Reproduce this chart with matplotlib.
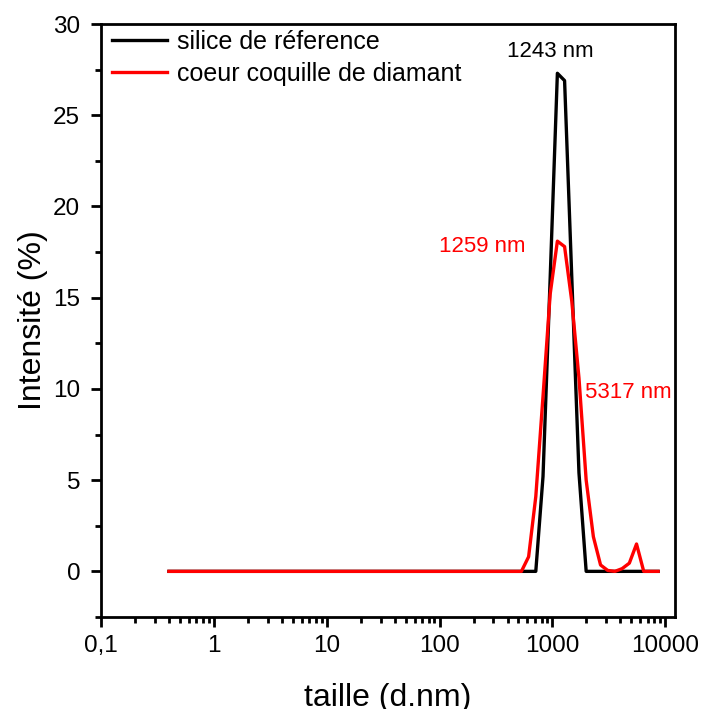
import matplotlib
matplotlib.use("Agg")
import matplotlib.pyplot as plt
from matplotlib.ticker import FixedLocator, FixedFormatter, LogLocator, MultipleLocator, NullFormatter

plt.rcParams["font.family"] = ["Liberation Sans", "DejaVu Sans"]

# taille (d.nm) : classes DLS
taille = [0.4, 531, 615, 712, 825, 955, 1106, 1281, 1484, 1718, 1990,
          2305, 2669, 3091, 3580, 4145, 4801, 5560, 6439, 7456, 8635]
silice = [0, 0, 0, 0, 5.2, 16.1, 27.3, 26.9, 16.1, 5.4, 0,
          0, 0, 0, 0, 0, 0, 0, 0, 0, 0]
diamant = [0, 0, 0.8, 4.1, 9.6, 15.2, 18.1, 17.8, 14.8, 10.6, 5.0,
           1.9, 0.35, 0.05, 0, 0.15, 0.45, 1.5, 0, 0, 0]

xticks = [0.1, 1, 10, 100, 1000, 10000]
xtick_labels = ["0,1", "1", "10", "100", "1000", "10000"]

fig = plt.figure(figsize=(7.02, 7.09), dpi=100)
ax = fig.add_axes([0.1439, 0.1298, 0.8177, 0.8363])

ax.plot(taille, silice, color="black", lw=2.4, label="silice de réference")
ax.plot(taille, diamant, color="red", lw=2.4, label="coeur coquille de diamant")

ax.set_xscale("log")
ax.set_xlim(0.1, 12200)
ax.set_ylim(-2.5, 30)

ax.xaxis.set_major_locator(FixedLocator(xticks))
ax.xaxis.set_major_formatter(FixedFormatter(xtick_labels))
ax.xaxis.set_minor_locator(LogLocator(base=10, subs=range(2, 10)))
ax.xaxis.set_minor_formatter(NullFormatter())
ax.yaxis.set_major_locator(MultipleLocator(5))
ax.yaxis.set_minor_locator(MultipleLocator(2.5))

for s in ax.spines.values():
    s.set_linewidth(2)
ax.tick_params(which="major", direction="out", length=7, width=2, labelsize=17.5)
ax.tick_params(axis="x", which="major", pad=6)
ax.tick_params(axis="y", which="major", pad=8)
ax.tick_params(which="minor", direction="out", length=4, width=2)

ax.set_xlabel("taille (d.nm)", fontsize=23, labelpad=19)
ax.set_ylabel("Intensité (%)", fontsize=23, labelpad=4)

ax.text(955, 28.5, "1243 nm", color="black", fontsize=16, ha="center", va="center")
ax.text(239, 17.8, "1259 nm", color="red", fontsize=16, ha="center", va="center")
ax.text(1954, 9.8, "5317 nm", color="red", fontsize=16, ha="left", va="center")

ax.legend(loc="upper left", bbox_to_anchor=(0.019, 0.99), frameon=False,
          fontsize=18, handlelength=2.2, handletextpad=0.4, labelspacing=0.32,
          borderpad=0, borderaxespad=0)

fig.savefig("out.png", dpi=100)
